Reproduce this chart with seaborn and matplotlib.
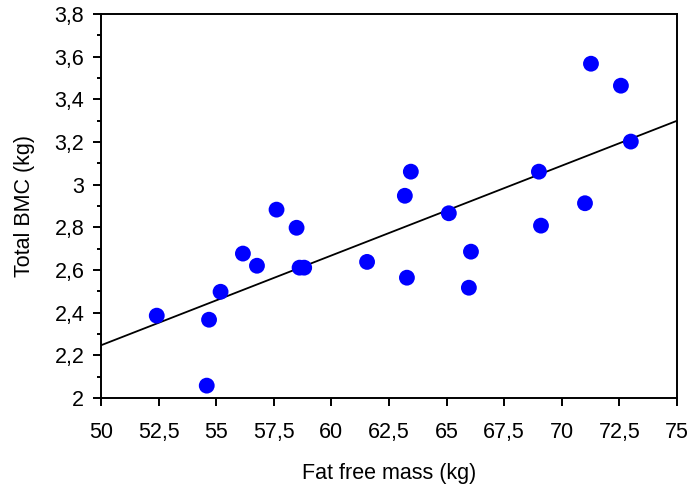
import matplotlib
matplotlib.use("Agg")
import matplotlib.pyplot as plt
import seaborn as sns
import pandas as pd
from matplotlib.ticker import FixedLocator, MultipleLocator

# Fat free mass (kg) and total bone mineral content (kg) per subject
fat_free_mass = [52.42, 54.69, 54.59, 55.19, 56.16, 56.77, 57.62, 58.49, 58.62, 58.82,
                 61.55, 63.45, 63.19, 63.28, 65.10, 66.06, 65.97, 69.01, 69.10, 71.01,
                 71.27, 72.57, 73.00]
total_bmc = [2.386, 2.367, 2.058, 2.498, 2.677, 2.620, 2.883, 2.798, 2.611, 2.611,
             2.638, 3.061, 2.948, 2.564, 2.866, 2.686, 2.517, 3.061, 2.808, 2.913,
             3.567, 3.464, 3.202]

x_ticks = [50, 52.5, 55, 57.5, 60, 62.5, 65, 67.5, 70, 72.5, 75]
x_tick_labels = ["50", "52,5", "55", "57,5", "60", "62,5", "65", "67,5", "70", "72,5", "75"]
y_ticks = [2.0, 2.2, 2.4, 2.6, 2.8, 3.0, 3.2, 3.4, 3.6, 3.8]
y_tick_labels = ["2", "2,2", "2,4", "2,6", "2,8", "3", "3,2", "3,4", "3,6", "3,8"]

df = pd.DataFrame({"ffm": fat_free_mass, "bmc": total_bmc})

sns.set_style("ticks")
plt.rcParams["font.family"] = ["Liberation Sans", "DejaVu Sans"]
plt.rcParams["text.color"] = "black"
plt.rcParams["axes.labelcolor"] = "black"

fig = plt.figure(figsize=(6.9, 4.88), dpi=100)
ax = fig.add_axes([0.1464, 0.1844, 0.981 - 0.1464, 0.9713 - 0.1844])
ax.set_xlim(50, 75)
ax.set_ylim(2.0, 3.8)

# least-squares fit line spanning the full x range
sns.regplot(data=df, x="ffm", y="bmc", ax=ax, scatter=False, ci=None,
            truncate=False, line_kws={"color": "black", "linewidth": 1.3, "zorder": 2})
sns.scatterplot(data=df, x="ffm", y="bmc", ax=ax, color="#0000FF", s=130,
                edgecolor="none", linewidth=0, zorder=3)

ax.set_xlim(50, 75)
ax.set_ylim(2.0, 3.8)
ax.xaxis.set_major_locator(FixedLocator(x_ticks))
ax.set_xticklabels(x_tick_labels)
ax.yaxis.set_major_locator(FixedLocator(y_ticks))
ax.set_yticklabels(y_tick_labels)
ax.yaxis.set_minor_locator(MultipleLocator(0.1))

for side in ["top", "right", "bottom", "left"]:
    ax.spines[side].set_visible(True)
    ax.spines[side].set_linewidth(1.4)
    ax.spines[side].set_color("black")

ax.tick_params(axis="x", which="major", direction="out", length=5.5, width=1.4,
               labelsize=15.5, pad=12, colors="black")
ax.tick_params(axis="y", which="major", direction="out", length=6, width=1.4,
               labelsize=15.5, pad=6, colors="black")
ax.tick_params(axis="y", which="minor", direction="out", length=3, width=1.4,
               colors="black")
ax.tick_params(axis="x", which="minor", bottom=False)

ax.set_xlabel("Fat free mass (kg)", fontsize=15.5, labelpad=14, color="black")
ax.set_ylabel("Total BMC (kg)", fontsize=15.5, labelpad=14, color="black")

fig.savefig("out.png", dpi=100, facecolor="white")
